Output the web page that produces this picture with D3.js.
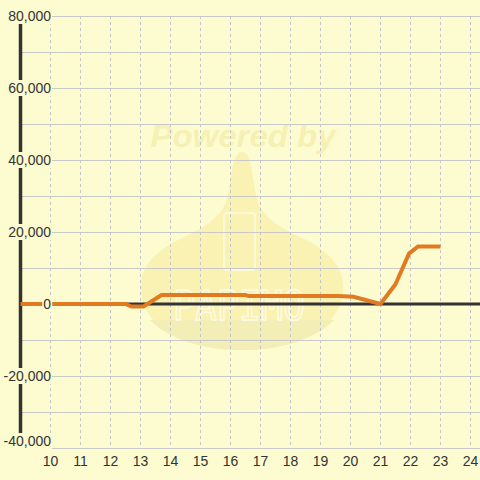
<!DOCTYPE html>
<html><head><meta charset="utf-8">
<script src="https://cdn.jsdelivr.net/npm/d3@7"></script>
<style>html,body{margin:0;padding:0;background:#fcfcd0;}svg{display:block;}</style>
</head><body>
<svg id="c" width="480" height="480"></svg>
<script>
const hours = [9, 12.5, 12.7, 13.1, 13.7, 16.5, 16.6, 19.6, 20.1, 21.0, 21.5, 21.95, 22.25, 23.0];
const values = [0, 0, -700, -700, 2500, 2500, 2200, 2200, 2000, 0, 5500, 14000, 16000, 16000];
const xTicks = [10,11,12,13,14,15,16,17,18,19,20,21,22,23,24];
const yTicks = [-40000,-20000,0,20000,40000,60000,80000];
const yGrid = [-40000,-30000,-20000,-10000,0,10000,20000,30000,40000,50000,60000,70000,80000];

const svg = d3.select('#c');
const bg = '#fcfcd0';
const x = d3.scaleLinear().domain([9, 24]).range([20.5, 470.5]);
const y = d3.scaleLinear().domain([-40000, 80000]).range([448, 16]);
const xMax = 480;

// watermark
const wm = svg.append('g');
wm.append('text').attr('x', 243).attr('y', 147).attr('text-anchor','middle')
  .attr('font-family','Liberation Sans, Arial, sans-serif').attr('font-weight','bold')
  .attr('font-style','italic').attr('font-size', 32).attr('fill','#f7f0b4')
  .attr('textLength',185).attr('lengthAdjust','spacingAndGlyphs').text('Powered by');
wm.append('path')
  .attr('d','M242,152 C250,152 252,170 255,190 C258,210 268,222 298,236 C333,252 345,270 343,292 C340,327 300,350 242,350 C184,350 144,327 141,292 C139,270 151,252 186,236 C216,222 226,210 229,190 C232,170 234,152 242,152 Z')
  .attr('fill','#f9f2b2');
wm.append('path')
  .attr('d','M150,320 C170,340 205,350 242,350 C279,350 314,340 334,320 Z')
  .attr('fill','#f3edb6');
wm.append('rect').attr('x',224).attr('y',213).attr('width',31).attr('height',57).attr('rx',3)
  .attr('fill','none').attr('stroke','#fdfbe8').attr('stroke-width',1.5);
wm.append('text').attr('x',239).attr('y',320).attr('text-anchor','middle')
  .attr('font-family','DejaVu Sans Mono, monospace').attr('font-size',40)
  .attr('fill','none').attr('stroke','#fdfbe8').attr('stroke-width',1.5)
  .attr('textLength',132).attr('lengthAdjust','spacingAndGlyphs').text('PAPIMO');

// horizontal grid
svg.append('g').selectAll('line').data(yGrid).join('line')
  .attr('x1', 20).attr('x2', xMax)
  .attr('y1', d => Math.round(y(d)) + 0.5).attr('y2', d => Math.round(y(d)) + 0.5)
  .attr('stroke', '#c8c8c8').attr('stroke-width', 1);

// vertical dashed grid
svg.append('g').selectAll('line').data(xTicks).join('line')
  .attr('x1', d => x(d)).attr('x2', d => x(d))
  .attr('y1', 16).attr('y2', 448)
  .attr('stroke', '#c4c4c4').attr('stroke-width', 1).attr('stroke-dasharray','3,3');

// zero line
svg.append('line').attr('x1', 20).attr('x2', xMax)
  .attr('y1', y(0)).attr('y2', y(0)).attr('stroke', '#333').attr('stroke-width', 3);

// y axis line
svg.append('line').attr('x1', 20.5).attr('x2', 20.5).attr('y1', 16).attr('y2', 448)
  .attr('stroke', '#333').attr('stroke-width', 3.5);

// data line
const line = d3.line().x((d,i) => x(hours[i])).y(d => y(d));
svg.append('path').datum(values).attr('d', line)
  .attr('fill','none').attr('stroke','#e07b22').attr('stroke-width',4);

// y labels with background
const fmt = d3.format(',');
const yl = svg.append('g').selectAll('g').data(yTicks).join('g');
yl.each(function(d){
  const g = d3.select(this);
  const cy = Math.min(y(d), 441);
  const t = g.append('text').attr('x', 51).attr('y', cy).attr('dy','0.35em')
    .attr('text-anchor','end').attr('font-family','Liberation Sans, Arial, sans-serif')
    .attr('font-size', 14).attr('fill','#333').text(fmt(d).replace('−','-'));
  const b = t.node().getBBox();
  g.insert('rect','text').attr('x', b.x - 1).attr('y', cy - 8).attr('width', b.width + 2).attr('height', 16).attr('fill', bg);
});

// x labels
svg.append('g').selectAll('text').data(xTicks).join('text')
  .attr('x', d => x(d)).attr('y', 466).attr('text-anchor','middle')
  .attr('font-family','Liberation Sans, Arial, sans-serif').attr('font-size',14)
  .attr('fill','#333').text(d => d);
</script>
</body></html>
